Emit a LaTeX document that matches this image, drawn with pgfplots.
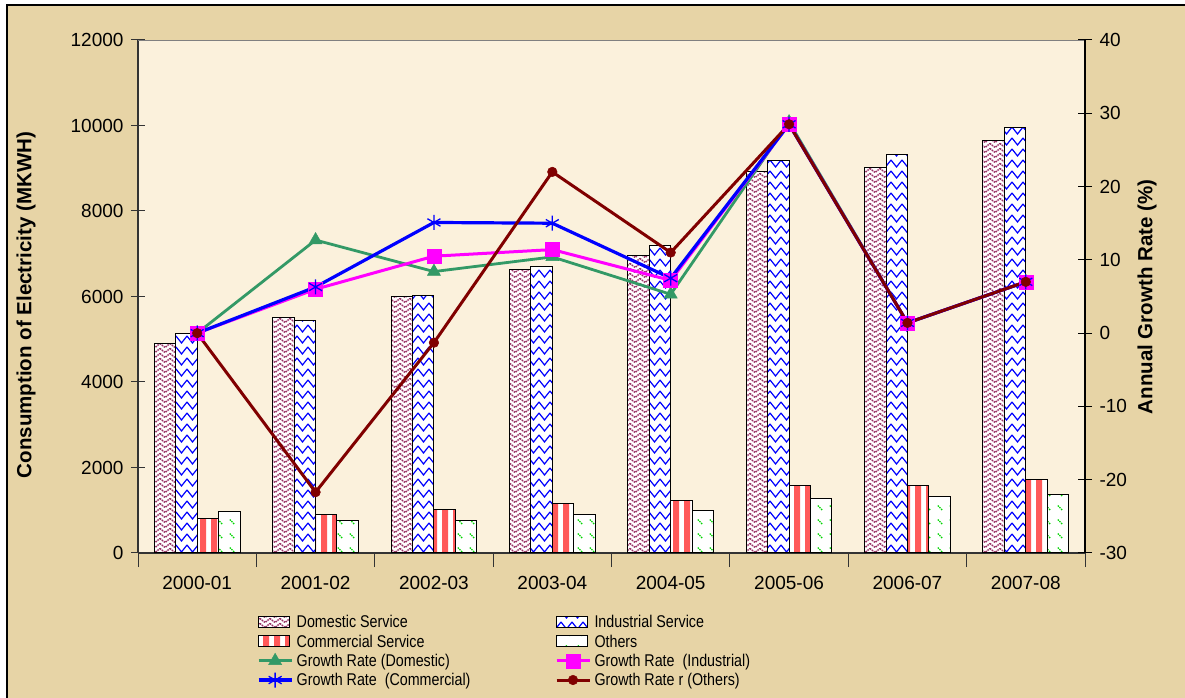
\documentclass[border=0pt]{standalone}
\usepackage{pgfplots}
\pgfplotsset{compat=1.18}
\usepackage{pgfplotstable}
\usetikzlibrary{patterns}
\usepackage{fontspec}
\setmainfont{Liberation Sans}
\newfontfamily\narrowsans[FakeStretch=0.84]{Liberation Sans}

\definecolor{bgtan}{RGB}{231,212,166}
\definecolor{cream}{RGB}{251,241,220}
\definecolor{domcol}{RGB}{153,51,102}
\definecolor{othcol}{RGB}{0,215,0}
\definecolor{gdom}{RGB}{51,153,102}
\definecolor{goth}{RGB}{128,0,0}
\definecolor{mag}{RGB}{255,0,255}
\definecolor{bl}{RGB}{0,0,255}
\definecolor{rd}{RGB}{255,0,0}

\pgfdeclarepatternformonly{domzig}{\pgfqpoint{-1pt}{-1pt}}{\pgfqpoint{11pt}{6pt}}{\pgfqpoint{10pt}{5pt}}{%
  \pgfsetlinewidth{1.5pt}%
  \pgfsetdash{{1.5pt}{0.9pt}}{0pt}%
  \pgfpathmoveto{\pgfqpoint{0pt}{4.5pt}}\pgfpathlineto{\pgfqpoint{5pt}{0.5pt}}\pgfpathlineto{\pgfqpoint{10pt}{4.5pt}}%
  \pgfusepath{stroke}}
\pgfdeclarepatternformonly{indzig}{\pgfqpoint{-1pt}{-1pt}}{\pgfqpoint{12pt}{12pt}}{\pgfqpoint{11pt}{11pt}}{%
  \pgfsetlinewidth{1.2pt}%
  \pgfpathmoveto{\pgfqpoint{0pt}{10pt}}\pgfpathlineto{\pgfqpoint{5.5pt}{3pt}}\pgfpathlineto{\pgfqpoint{11pt}{10pt}}%
  \pgfusepath{stroke}}
\pgfdeclarepatternformonly{comstripes}{\pgfqpoint{0pt}{0pt}}{\pgfqpoint{10.5pt}{1pt}}{\pgfqpoint{10.5pt}{1pt}}{%
  \pgfpathrectangle{\pgfqpoint{0pt}{0pt}}{\pgfqpoint{6.3pt}{1pt}}%
  \pgfusepath{fill}}
\pgfdeclarepatternformonly{othdash}{\pgfqpoint{0pt}{0pt}}{\pgfqpoint{12pt}{14pt}}{\pgfqpoint{12pt}{14pt}}{%
  \pgfsetlinewidth{1.4pt}%
  \pgfsetdash{{1.5pt}{1pt}}{0pt}%
  \pgfpathmoveto{\pgfqpoint{2pt}{11pt}}\pgfpathlineto{\pgfqpoint{7pt}{6pt}}%
  \pgfusepath{stroke}}

\pgfplotstableread{
x dom ind com oth
0 4910 5140 810 975
1 5510 5430 895 750
2 6000 6020 1006 750
3 6620 6700 1160 900
4 6970 7190 1230 1005
5 8935 9190 1590 1270
6 9010 9310 1590 1310
7 9645 9950 1715 1380
}\bars

\begin{document}
\begin{tikzpicture}[x=1pt,y=1pt]
\useasboundingbox (0,0) rectangle (1185,698);
\fill[white] (0,0) rectangle (1185,698);
\fill[bgtan] (7,0) rectangle (1185,693);
\draw[black,line width=1.2pt] (7,-2) -- (7,693) -- (1190,693);

\begin{axis}[
  at={(138pt,145pt)}, anchor=south west, scale only axis,
  width=947pt, height=513pt,
  xmin=-0.5, xmax=7.5, ymin=0, ymax=12000,
  scaled y ticks=false,
  axis x line*=bottom, axis y line*=left,
  axis background/.style={fill=cream},
  xtick={0,...,7},
  xticklabels={2000-01,2001-02,2002-03,2003-04,2004-05,2005-06,2006-07,2007-08},
  minor xtick={-0.5,0.5,...,7.5},
  ytick={0,2000,...,12000},
  yticklabels={0,2000,4000,6000,8000,10000,12000},
  tick align=center, major tick length=14pt, minor tick length=14pt,
  tick style={black!80, line width=1pt},
  major x tick style={draw=none},
  axis line style={black!80, line width=1.3pt},
  ticklabel style={font=\fontsize{19}{19}\selectfont},
  xticklabel style={yshift=-6pt},
  yticklabel style={xshift=-4pt},
  ylabel={Consumption of Electricity (MKWH)},
  ylabel style={font=\bfseries\fontsize{20.5}{20}\selectfont, at={(axis description cs:-0.1183,0.4834)}, anchor=center},
  ybar=0pt, bar width=0.181,
]
\addplot[fill=white, draw=black, line width=1pt, postaction={pattern=domzig, pattern color=domcol}] table[x=x,y=dom]{\bars};
\addplot[fill=white, draw=black, line width=1pt, postaction={pattern=indzig, pattern color=bl}] table[x=x,y=ind]{\bars};
\addplot[fill=white, draw=black, line width=1pt, postaction={pattern=comstripes, pattern color=rd}] table[x=x,y=com]{\bars};
\addplot[fill=white, draw=black, line width=1pt, postaction={pattern=othdash, pattern color=othcol}] table[x=x,y=oth]{\bars};
\draw[gray, line width=0.8pt] (rel axis cs:0,1) -- (rel axis cs:1,1);
\end{axis}

\begin{axis}[
  at={(138pt,145pt)}, anchor=south west, scale only axis,
  width=947pt, height=513pt,
  xmin=-0.5, xmax=7.5, ymin=-30, ymax=40,
  axis x line=none, axis y line*=right,
  ytick={-30,-20,...,40},
  yticklabels={-30,-20,-10,0,10,20,30,40},
  tick align=center, major tick length=14pt,
  tick style={black, line width=1pt},
  axis line style={black, line width=1.3pt},
  ticklabel style={font=\fontsize{19}{19}\selectfont},
  yticklabel style={xshift=4pt},
  ylabel={Annual Growth Rate (\%)},
  ylabel style={font=\bfseries\fontsize{20.5}{20}\selectfont, at={(axis description cs:1.0655,0.499)}, anchor=center},
  legend columns=2,
  legend cell align=left,
  legend style={at={(0.1257,-0.121)}, anchor=north west, draw=none, fill=none,
    inner sep=0pt, outer sep=0pt,
    font=\narrowsans\fontsize{17}{17}\selectfont,
    row sep=4.3pt,
    nodes={inner sep=0.5pt},
    /tikz/every odd column/.style={column sep=3pt},
    /tikz/every even column/.style={column sep=84pt}},
  legend image code/.code={\draw[mark repeat=2,mark phase=2,#1] plot coordinates {(0pt,0pt) (16.5pt,0pt) (33pt,0pt)};},
]
\addlegendimage{legend image code/.code={\draw[fill=white, draw=black, line width=1pt, postaction={pattern=domzig, pattern color=domcol}] (0pt,-5pt) rectangle (31pt,6pt);}}
\addlegendentry{Domestic Service}
\addlegendimage{legend image code/.code={\draw[fill=white, draw=black, line width=1pt, postaction={pattern=indzig, pattern color=bl}] (0pt,-5pt) rectangle (31pt,6pt);}}
\addlegendentry{Industrial Service}
\addlegendimage{legend image code/.code={\draw[fill=white, draw=black, line width=1pt, postaction={pattern=comstripes, pattern color=rd}] (0pt,-5pt) rectangle (31pt,6pt);}}
\addlegendentry{Commercial Service}
\addlegendimage{legend image code/.code={\draw[fill=white, draw=black, line width=1pt, postaction={pattern=othdash, pattern color=othcol}] (0pt,-5pt) rectangle (31pt,6pt);}}
\addlegendentry{Others}

\addplot[gdom, line width=2.8pt, mark=triangle*, mark size=7.5pt, mark options={line width=0.5pt}]
  coordinates {(0,0) (1,12.7) (2,8.4) (3,10.4) (4,5.3) (5,28.8) (6,1.4) (7,7.0)};
\addlegendentry{Growth Rate (Domestic)}
\addplot[mag, line width=3pt, mark=square*, mark size=7pt, mark options={line width=0.5pt}]
  coordinates {(0,0) (1,6.0) (2,10.5) (3,11.4) (4,7.2) (5,28.5) (6,1.4) (7,7.0)};
\addlegendentry{Growth Rate~ (Industrial)}
\addplot[bl, line width=3.2pt, mark=asterisk, mark size=7.5pt, mark options={line width=1.3pt}]
  coordinates {(0,0) (1,6.3) (2,15.1) (3,15.0) (4,7.5) (5,28.5) (6,1.4) (7,7.0)};
\addlegendentry{Growth Rate~ (Commercial)}
\addplot[goth, line width=3pt, mark=*, mark size=4.8pt, mark options={line width=0.5pt}]
  coordinates {(0,0) (1,-21.7) (2,-1.3) (3,22.0) (4,11.0) (5,28.5) (6,1.4) (7,7.0)};
\addlegendentry{Growth Rate r (Others)}
\end{axis}
\end{tikzpicture}
\end{document}
